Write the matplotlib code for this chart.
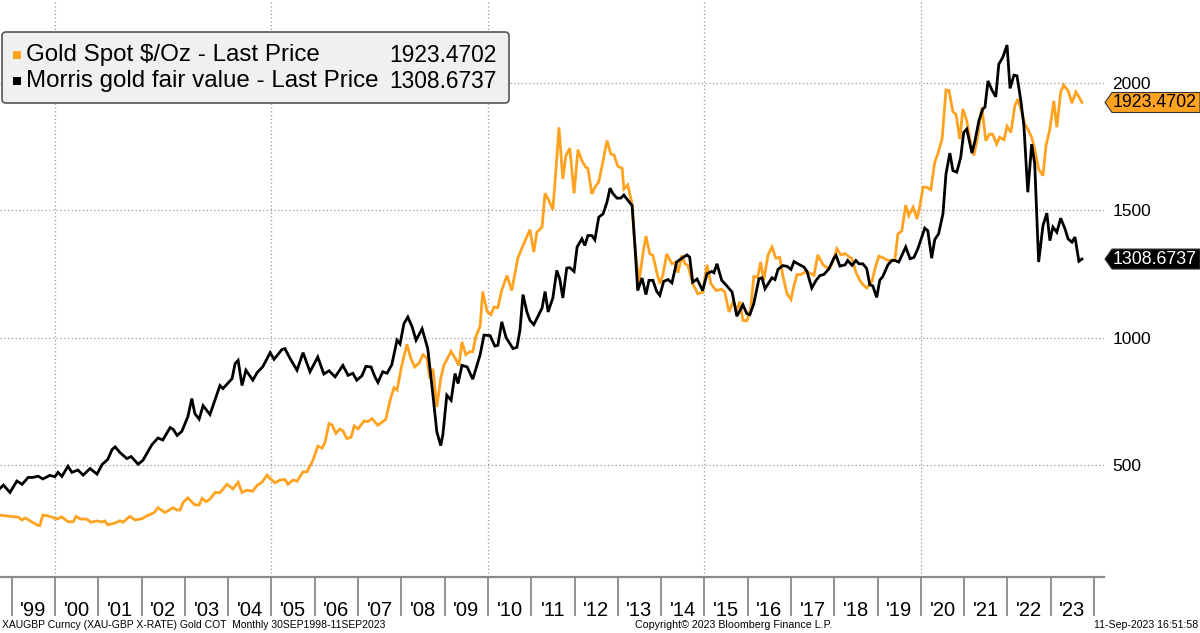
import numpy as np
import matplotlib.pyplot as plt
from matplotlib.patches import FancyBboxPatch, Polygon, Rectangle
from matplotlib.transforms import IdentityTransform

plt.rcParams['font.family'] = ['Liberation Sans', 'DejaVu Sans']

# ---------------- data (decimal years) ----------------
gold_pts = [
    (1998.73, 303), (1998.96, 298), (1999.15, 295), (1999.24, 284), (1999.31, 292), (1999.47, 276),
    (1999.61, 262), (1999.65, 262), (1999.72, 303), (1999.84, 300),
    (2000.05, 288), (2000.16, 296), (2000.30, 277), (2000.42, 277), (2000.49, 298), (2000.58, 288),
    (2000.74, 287), (2000.83, 275), (2000.97, 280),
    (2001.09, 276), (2001.15, 280), (2001.22, 265), (2001.39, 272), (2001.50, 281), (2001.57, 275),
    (2001.73, 298), (2001.85, 284),
    (2002.01, 289), (2002.12, 300), (2002.29, 313), (2002.38, 332), (2002.54, 313), (2002.73, 332),
    (2002.82, 323), (2002.89, 323), (2002.96, 353),
    (2003.07, 371), (2003.23, 343), (2003.33, 343), (2003.40, 369), (2003.49, 356), (2003.58, 366),
    (2003.70, 392), (2003.81, 391), (2003.97, 424),
    (2004.11, 406), (2004.23, 432), (2004.32, 392), (2004.43, 401), (2004.57, 397), (2004.67, 420),
    (2004.78, 432), (2004.90, 460), (2004.97, 447),
    (2005.08, 430), (2005.20, 441), (2005.31, 443), (2005.38, 424), (2005.50, 441), (2005.59, 436),
    (2005.73, 473), (2005.82, 473), (2005.96, 519),
    (2006.07, 574), (2006.17, 566), (2006.24, 591), (2006.33, 663), (2006.40, 657), (2006.49, 624),
    (2006.58, 641), (2006.65, 634), (2006.74, 604), (2006.84, 609), (2006.91, 653),
    (2007.00, 642), (2007.14, 673), (2007.23, 670), (2007.32, 682), (2007.46, 656), (2007.64, 679),
    (2007.74, 754), (2007.83, 804), (2007.90, 794),
    (2008.01, 891), (2008.13, 974), (2008.22, 918), (2008.31, 885), (2008.41, 900), (2008.50, 933),
    (2008.59, 920), (2008.66, 839), (2008.73, 878), (2008.82, 728), (2008.91, 839), (2008.98, 891),
    (2009.15, 946), (2009.24, 920), (2009.33, 891), (2009.40, 983), (2009.49, 933), (2009.58, 945),
    (2009.65, 945), (2009.72, 1003), (2009.82, 1045), (2009.88, 1181), (2009.98, 1103),
    (2010.07, 1090), (2010.14, 1120), (2010.23, 1118), (2010.32, 1187), (2010.44, 1244), (2010.55, 1185),
    (2010.69, 1312), (2010.81, 1362), (2010.97, 1424),
    (2011.06, 1336), (2011.13, 1414), (2011.25, 1434), (2011.32, 1567), (2011.39, 1545), (2011.50, 1503),
    (2011.57, 1656), (2011.64, 1826), (2011.73, 1623), (2011.80, 1714), (2011.89, 1744), (2011.99, 1567),
    (2012.08, 1738), (2012.17, 1695), (2012.26, 1669), (2012.31, 1665), (2012.40, 1564), (2012.47, 1590),
    (2012.56, 1612), (2012.66, 1695), (2012.75, 1774), (2012.84, 1721), (2012.91, 1718),
    (2013.00, 1673), (2013.10, 1665), (2013.14, 1584), (2013.23, 1600), (2013.33, 1525), (2013.40, 1349),
    (2013.49, 1218), (2013.58, 1329), (2013.65, 1399), (2013.74, 1329), (2013.81, 1323), (2013.90, 1257),
    (2013.97, 1212),
    (2014.04, 1245), (2014.13, 1329), (2014.25, 1290), (2014.32, 1295), (2014.39, 1255), (2014.48, 1323),
    (2014.55, 1290), (2014.62, 1283), (2014.73, 1212), (2014.85, 1172), (2014.96, 1178),
    (2015.06, 1286), (2015.15, 1212), (2015.27, 1185), (2015.40, 1190), (2015.47, 1179), (2015.57, 1101),
    (2015.66, 1140), (2015.75, 1110), (2015.82, 1142), (2015.89, 1068), (2015.98, 1066),
    (2016.07, 1114), (2016.14, 1240), (2016.23, 1237), (2016.30, 1297), (2016.37, 1225), (2016.47, 1325),
    (2016.56, 1356), (2016.65, 1312), (2016.74, 1315), (2016.81, 1244), (2016.91, 1172),
    (2017.00, 1150), (2017.07, 1205), (2017.14, 1248), (2017.23, 1248), (2017.35, 1260), (2017.41, 1255),
    (2017.53, 1245), (2017.62, 1325), (2017.74, 1286), (2017.83, 1275), (2017.90, 1275), (2017.97, 1299),
    (2018.06, 1349), (2018.15, 1325), (2018.25, 1330), (2018.34, 1318), (2018.41, 1310), (2018.50, 1257),
    (2018.59, 1225), (2018.66, 1208), (2018.75, 1195), (2018.87, 1221), (2018.94, 1271),
    (2019.03, 1320), (2019.12, 1314), (2019.24, 1303), (2019.33, 1303), (2019.40, 1306), (2019.47, 1408),
    (2019.56, 1419), (2019.65, 1521), (2019.72, 1479), (2019.82, 1512), (2019.91, 1466), (2019.98, 1519),
    (2020.05, 1591), (2020.14, 1590), (2020.23, 1581), (2020.32, 1689), (2020.39, 1721), (2020.49, 1780),
    (2020.58, 1973), (2020.65, 1970), (2020.74, 1887), (2020.81, 1878), (2020.90, 1780), (2020.97, 1898),
    (2021.06, 1852), (2021.13, 1780), (2021.22, 1715), (2021.29, 1767), (2021.41, 1904), (2021.50, 1773),
    (2021.59, 1800), (2021.66, 1798), (2021.75, 1760), (2021.82, 1787), (2021.92, 1777), (2021.99, 1830),
    (2022.08, 1806), (2022.17, 1911), (2022.24, 1937), (2022.33, 1885), (2022.40, 1839), (2022.47, 1819),
    (2022.56, 1787), (2022.63, 1741), (2022.72, 1662), (2022.82, 1636), (2022.89, 1754), (2022.98, 1819),
    (2023.07, 1930), (2023.14, 1826), (2023.23, 1965), (2023.30, 1992), (2023.40, 1970), (2023.49, 1921),
    (2023.58, 1965), (2023.65, 1946), (2023.72, 1923.4702),
]

fair_pts = [
    (1998.73, 408), (1998.81, 421), (1998.96, 392), (1999.12, 437), (1999.24, 424), (1999.38, 451),
    (1999.49, 451), (1999.61, 456), (1999.72, 445), (1999.88, 459),
    (2000.00, 454), (2000.07, 471), (2000.16, 455), (2000.30, 495), (2000.39, 471), (2000.53, 480),
    (2000.65, 460), (2000.81, 486), (2000.97, 464),
    (2001.09, 502), (2001.22, 522), (2001.32, 561), (2001.39, 571), (2001.50, 549), (2001.66, 525),
    (2001.76, 533), (2001.92, 503),
    (2002.03, 518), (2002.24, 580), (2002.38, 606), (2002.49, 598), (2002.66, 647), (2002.73, 640),
    (2002.82, 616), (2002.93, 632),
    (2003.07, 690), (2003.16, 761), (2003.23, 702), (2003.33, 680), (2003.42, 733), (2003.58, 698),
    (2003.81, 812), (2003.88, 800),
    (2004.09, 839), (2004.16, 898), (2004.23, 911), (2004.32, 812), (2004.41, 872), (2004.57, 833),
    (2004.67, 863), (2004.80, 886), (2004.97, 941),
    (2005.06, 915), (2005.24, 953), (2005.31, 957), (2005.43, 918), (2005.59, 872), (2005.73, 941),
    (2005.89, 866),
    (2006.07, 924), (2006.21, 857), (2006.33, 870), (2006.47, 846), (2006.65, 891), (2006.77, 852),
    (2006.88, 860), (2006.97, 833),
    (2007.09, 850), (2007.18, 887), (2007.30, 885), (2007.39, 846), (2007.46, 824), (2007.57, 866),
    (2007.67, 860), (2007.78, 894), (2007.90, 990), (2007.97, 975),
    (2008.06, 1055), (2008.15, 1081), (2008.25, 1042), (2008.34, 990), (2008.48, 1035), (2008.61, 957),
    (2008.73, 774), (2008.82, 630), (2008.91, 576), (2008.96, 620),
    (2009.05, 774), (2009.15, 754), (2009.24, 859), (2009.31, 820), (2009.40, 891), (2009.52, 885),
    (2009.65, 837), (2009.82, 933), (2009.91, 1010),
    (2010.05, 1008), (2010.16, 967), (2010.23, 970), (2010.32, 1062), (2010.42, 1000), (2010.58, 957),
    (2010.67, 962), (2010.74, 1029), (2010.81, 1169), (2010.90, 1101), (2010.97, 1068),
    (2011.06, 1051), (2011.13, 1075), (2011.25, 1116), (2011.32, 1181), (2011.39, 1101), (2011.50, 1156),
    (2011.59, 1264), (2011.66, 1230), (2011.73, 1156), (2011.82, 1273), (2011.89, 1275), (2011.99, 1260),
    (2012.06, 1356), (2012.17, 1388), (2012.24, 1362), (2012.31, 1401), (2012.40, 1401), (2012.47, 1384),
    (2012.56, 1473), (2012.66, 1486), (2012.75, 1532), (2012.82, 1587), (2012.89, 1565), (2012.98, 1548),
    (2013.07, 1548), (2013.14, 1560), (2013.23, 1540), (2013.33, 1519), (2013.40, 1349), (2013.46, 1185),
    (2013.56, 1234), (2013.65, 1169), (2013.72, 1225), (2013.81, 1225), (2013.90, 1181), (2013.97, 1166),
    (2014.06, 1221), (2014.16, 1228), (2014.25, 1215), (2014.36, 1297), (2014.48, 1312), (2014.60, 1325),
    (2014.66, 1316), (2014.73, 1218), (2014.83, 1230), (2014.96, 1185),
    (2015.06, 1251), (2015.17, 1260), (2015.22, 1255), (2015.29, 1290), (2015.40, 1225), (2015.52, 1203),
    (2015.64, 1179), (2015.75, 1084), (2015.89, 1129), (2015.98, 1094),
    (2016.05, 1090), (2016.14, 1133), (2016.26, 1231), (2016.33, 1235), (2016.40, 1192), (2016.56, 1235),
    (2016.63, 1228), (2016.70, 1268), (2016.81, 1283), (2016.91, 1280),
    (2017.00, 1268), (2017.07, 1299), (2017.16, 1290), (2017.30, 1277), (2017.37, 1260), (2017.48, 1195),
    (2017.58, 1225), (2017.67, 1244), (2017.76, 1248), (2017.88, 1271), (2017.99, 1312),
    (2018.04, 1323), (2018.13, 1281), (2018.25, 1286), (2018.31, 1303), (2018.41, 1284), (2018.50, 1303),
    (2018.57, 1290), (2018.66, 1290), (2018.75, 1271), (2018.82, 1208), (2018.89, 1203), (2018.98, 1158),
    (2019.05, 1225), (2019.12, 1240), (2019.24, 1286), (2019.33, 1303), (2019.40, 1303), (2019.49, 1297),
    (2019.65, 1356), (2019.75, 1310), (2019.84, 1315), (2019.93, 1349),
    (2020.02, 1395), (2020.09, 1430), (2020.16, 1420), (2020.25, 1312), (2020.32, 1385), (2020.41, 1408),
    (2020.51, 1486), (2020.58, 1643), (2020.67, 1725), (2020.74, 1656), (2020.83, 1650), (2020.92, 1708),
    (2020.99, 1806),
    (2021.06, 1819), (2021.18, 1725), (2021.25, 1773), (2021.34, 1852), (2021.43, 1898), (2021.48, 1905),
    (2021.55, 2008), (2021.64, 1973), (2021.73, 1946), (2021.80, 2074), (2021.89, 2100), (2021.99, 2149),
    (2022.06, 1979), (2022.15, 2031), (2022.22, 2028), (2022.31, 1930), (2022.38, 1832), (2022.47, 1571),
    (2022.56, 1760), (2022.63, 1682), (2022.72, 1297), (2022.82, 1440), (2022.91, 1489), (2022.98, 1381),
    (2023.05, 1434), (2023.14, 1414), (2023.23, 1469), (2023.33, 1427), (2023.40, 1388), (2023.49, 1375),
    (2023.56, 1395), (2023.65, 1300), (2023.72, 1308.6737),
]

gold_t, gold_v = np.array(gold_pts).T
fair_t, fair_v = np.array(fair_pts).T

series_names = ["Gold Spot $/Oz - Last Price", "Morris gold fair value - Last Price"]
last_values = ["1923.4702", "1308.6737"]
year_labels = ["'%02d" % (y % 100) for y in range(1999, 2024)]
y_ticks = [500, 1000, 1500, 2000]
grid_years = [2000, 2005, 2010, 2015, 2020]

ORANGE = '#FFA21F'
GREY = '#8a8a8a'

"---------------------------------- figure ----------------------------------"
fig = plt.figure(figsize=(12, 6.33), dpi=100)
ax = fig.add_axes([0, 56 / 633, 1104 / 1200, 577 / 633])

ax.plot(gold_t, gold_v, color=ORANGE, lw=2.0, zorder=3, solid_joinstyle='miter')
ax.plot(fair_t, fair_v, color='black', lw=2.0, zorder=4, solid_joinstyle='miter')

ax.set_xlim(1998.73, 2024.23)
ax.set_ylim(60, 2326)

#spines: only the bottom one
for s in ['left', 'top', 'right']:
    ax.spines[s].set_visible(False)
ax.spines['bottom'].set_color(GREY)
ax.spines['bottom'].set_linewidth(1.6)

#y axis on the right
ax.yaxis.tick_right()
ax.set_yticks(y_ticks)
ax.tick_params(axis='y', length=0, pad=6, labelsize=12.5)
ax.grid(axis='y', linestyle=(0, (1, 2)), color='#9a9a9a', lw=0.9)
for gy in grid_years:
    ax.axvline(gy, linestyle=(0, (1, 2)), color='#9a9a9a', lw=0.9, zorder=1)

#x axis: year boundaries as long ticks, labels in the middle of each year
ax.set_xticks(np.arange(1999, 2025))
ax.set_xticklabels([])
ax.set_xticks(np.arange(1999, 2024) + 0.5, minor=True)
ax.set_xticklabels(year_labels, minor=True)
ax.tick_params(axis='x', which='major', length=28, width=1.3, color=GREY, direction='out')
ax.tick_params(axis='x', which='minor', length=0, pad=17, labelsize=14.5)

"---------------------------------- legend box ----------------------------------"
H = 633
ident = IdentityTransform()
box = FancyBboxPatch((2, H - 103), 507, 71, boxstyle='round,pad=0,rounding_size=4',
                     fc='#f0f0f0', ec='#555555', lw=1.2, transform=ident, zorder=10)
fig.add_artist(box)
for row, (name, val, col) in enumerate(zip(series_names, last_values, [ORANGE, 'black'])):
    yc = H - (55 + 26 * row)
    fig.add_artist(Rectangle((13, yc - 4), 8, 8, fc=col, ec='none', transform=ident, zorder=11))
    fig.text(26, yc, name, transform=ident, fontsize=17.4, va='center', ha='left', zorder=11)
    fig.text(497, yc, val, transform=ident, fontsize=16.4, va='center', ha='right', zorder=11)

"---------------------------------- last value tags ----------------------------------"
fig.canvas.draw()
for val, v, fc, tc in [(last_values[0], gold_v[-1], ORANGE, 'black'),
                       (last_values[1], fair_v[-1], 'black', 'white')]:
    yd = ax.transData.transform((2020, v))[1]
    tag = Polygon([(1105, yd), (1112, yd + 10), (1200, yd + 10), (1200, yd - 10), (1112, yd - 10)],
                  closed=True, fc=fc, ec='#333333', lw=0.8, transform=ident, zorder=10)
    fig.add_artist(tag)
    fig.text(1113, yd, val, transform=ident, fontsize=12.8, color=tc, va='center', ha='left', zorder=11)

"---------------------------------- footer ----------------------------------"
fig.text(2, 8, "XAUGBP Curncy (XAU-GBP X-RATE) Gold COT  Monthly 30SEP1998-11SEP2023",
         transform=ident, fontsize=7.5, va='center', ha='left')
fig.text(734, 8, "Copyright\u00a9 2023 Bloomberg Finance L.P.", transform=ident, fontsize=7.7,
         va='center', ha='center')
fig.text(1198, 8, "11-Sep-2023 16:51:58", transform=ident, fontsize=7.6, va='center', ha='right')

plt.savefig('out.png', dpi=100)
